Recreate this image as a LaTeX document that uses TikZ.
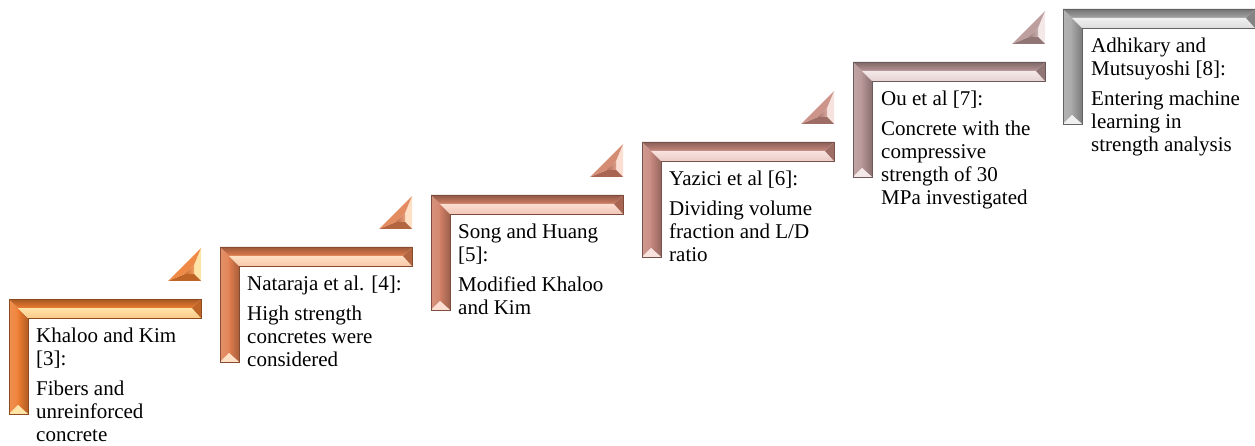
\documentclass[tikz,border=0pt]{standalone}
\usepackage{fontspec}
\setmainfont{Liberation Serif}
\definecolor{col1}{RGB}{237,125,49}
\definecolor{col2}{RGB}{224,126,80}
\definecolor{col3}{RGB}{208,127,102}
\definecolor{col4}{RGB}{198,136,126}
\definecolor{col5}{RGB}{182,148,148}
\definecolor{col6}{RGB}{165,165,165}
\definecolor{hl1}{RGB}{255,228,168}
\definecolor{hl2}{RGB}{255,224,196}
\definecolor{hl3}{RGB}{252,222,210}
\definecolor{hl4}{RGB}{248,226,222}
\definecolor{hl5}{RGB}{245,232,232}
\definecolor{hl6}{RGB}{240,240,240}
\tikzset{
  txt/.style={font=\fontsize{21}{23}\selectfont, align=left, inner sep=0pt, anchor=north west, text=black},
  rim/.style={line width=0.5pt}
}
\newcommand\drawbar[3]{%
\begin{scope}[shift={(#1,#2)}]
 \def\W{192}\def\T{19}\def\H{115}\def\B{9}
 % left bar
 \shade[left color=col#3!85!white, right color=col#3!95!white] (0,0) -- (\B,\B) -- (\B,\H-\B) -- (0,\H) -- cycle;
 \shade[left color=col#3, right color=col#3!75!black] (\B,\B) -- (\T,\T) -- (\T,\H) -- (\B,\H-\B) -- cycle;
 \fill[hl#3] (0,\H) -- (\B,\H-\B) -- (\T,\H) -- cycle;
 % top bar
 \shade[top color=col#3!70!black, bottom color=col#3] (0,0) -- (\W,0) -- (\W-\B,\B) -- (\B,\B) -- cycle;
 \shade[top color=hl#3, middle color=hl#3!40!white, bottom color=hl#3!75!col#3] (\B,\B) -- (\W-\B,\B) -- (\W,\T) -- (\T,\T) -- cycle;
 \fill[col#3!80!black] (\W,0) -- (\W,\T) -- (\W-\B,\B) -- cycle;
 \draw[rim, col#3!60!black] (0,0) -- (\W,0) -- (\W,\T) -- (\T,\T) -- (\T,\H) -- (0,\H) -- cycle;
\end{scope}}
\newcommand\drawtri[3]{%
\begin{scope}[shift={(#1,#2)}]
 \def\S{33}\def\b{7}
 \fill[hl#3] (0,0) -- (0,-\S) -- (-\b,-\S+2.414*\b) -- (-\b,-\b) -- cycle;
 \fill[col#3!80!black] (0,0) -- (-\b,-\b) -- (-\S+2.414*\b,-\b) -- (-\S,0) -- cycle;
 \fill[col#3!90!white] (-\S,0) -- (-\S+2.414*\b,-\b) -- (-\b,-\S+2.414*\b) -- (0,-\S) -- cycle;
 \shade[left color=col#3!85!black, right color=col#3!75!white] (-\b,-\b) -- (-\S+2.414*\b,-\b) -- (-\b,-\S+2.414*\b) -- cycle;
\end{scope}}
\begin{document}
\begin{tikzpicture}[x=1pt,y=-1pt]
\useasboundingbox (0,0) rectangle (1255,446);
\drawbar{9}{299}{1}
\drawbar{220}{247}{2}
\drawbar{431}{195}{3}
\drawbar{642}{142}{4}
\drawbar{853}{62}{5}
\drawbar{1063}{9}{6}
\drawtri{201}{281}{1}
\drawtri{412}{229}{2}
\drawtri{623}{177}{3}
\drawtri{834}{124}{4}
\drawtri{1045}{44}{5}
\node[txt] (t1) at (36,328) {Khaloo and Kim\\{}[3]:\\[7pt]Fibers and\\unreinforced\\concrete};
\node[txt] (t2) at (247,276) {Nataraja et al. [4]:\\[7pt]High strength\\concretes were\\considered};
\node[txt] (t3) at (458,224) {Song and Huang\\{}[5]:\\[7pt]Modified Khaloo\\and Kim};
\node[txt] (t4) at (669,171) {Yazici et al [6]:\\[7pt]Dividing volume\\fraction and L/D\\ratio};
\node[txt] (t5) at (881,91) {Ou et al [7]:\\[7pt]Concrete with the\\compressive\\strength of 30\\MPa investigated};
\node[txt] (t6) at (1091,38) {Adhikary and\\Mutsuyoshi [8]:\\[7pt]Entering machine\\learning in\\strength analysis};
\end{tikzpicture}
\end{document}
